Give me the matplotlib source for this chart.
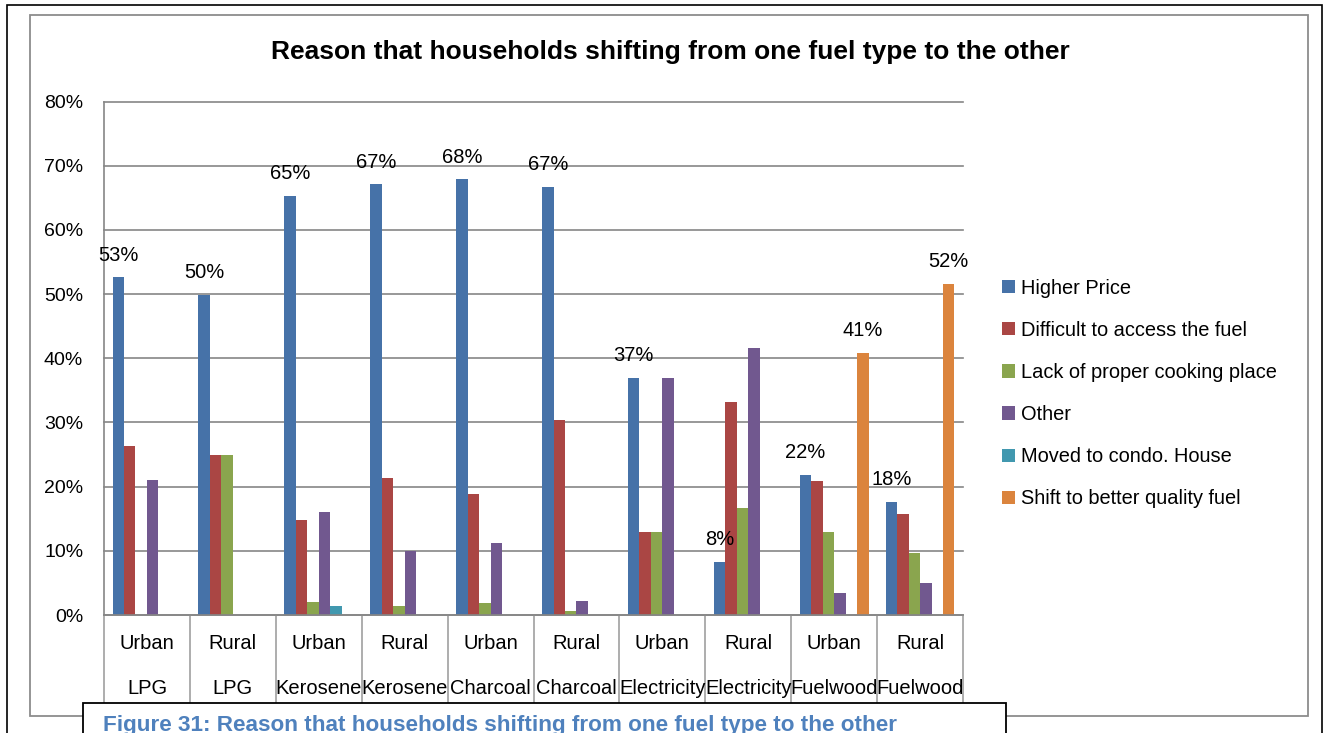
import matplotlib.pyplot as plt
import numpy as np
from matplotlib.patches import Rectangle
from matplotlib.ticker import PercentFormatter
import matplotlib.transforms as mtransforms

plt.rcParams['font.family'] = ['Liberation Sans', 'DejaVu Sans']

area = ["Urban", "Rural", "Urban", "Rural", "Urban", "Rural", "Urban", "Rural", "Urban", "Rural"]
fuel = ["LPG", "LPG", "Kerosene", "Kerosene", "Charcoal", "Charcoal",
        "Electricity", "Electricity", "Fuelwood", "Fuelwood"]

higher_price = [52.6, 49.9, 65.3, 67.1, 67.9, 66.7, 36.9, 8.3, 21.8, 17.6]
difficult_access = [26.4, 25.0, 14.8, 21.4, 18.8, 30.4, 13.0, 33.2, 20.9, 15.8]
lack_cooking_place = [0.0, 25.0, 2.1, 1.4, 1.9, 0.6, 13.0, 16.7, 12.9, 9.6]
other = [21.0, 0.0, 16.1, 10.0, 11.2, 2.2, 36.9, 41.6, 3.4, 5.0]
moved_condo = [0.0, 0.0, 1.4, 0.0, 0.0, 0.0, 0.0, 0.0, 0.0, 0.0]
better_fuel = [0.0, 0.0, 0.0, 0.0, 0.0, 0.0, 0.0, 0.0, 40.8, 51.6]

series = ["Higher Price", "Difficult to access the fuel", "Lack of proper cooking place",
          "Other", "Moved to condo. House", "Shift to better quality fuel"]
values = [higher_price, difficult_access, lack_cooking_place, other, moved_condo, better_fuel]
colors = ["#4672A8", "#AA4644", "#8AA54E", "#71588F", "#4198AF", "#DB843D"]
labelled = [True, False, False, False, False, True]

W, H = 1328, 733
fig = plt.figure(figsize=(W / 100, H / 100), dpi=100)


def fx(px):
    return px / W


def fy(py):
    return 1 - py / H


# outer page border and chart frame
fig.add_artist(Rectangle((fx(7), fy(760)), fx(1322) - fx(7), fy(5) - fy(760),
                         transform=fig.transFigure, fill=False, ec="black", lw=1.2, zorder=1))
fig.add_artist(Rectangle((fx(30), fy(716)), fx(1308) - fx(30), fy(15) - fy(716),
                         transform=fig.transFigure, fill=False, ec="#8c8c8c", lw=1.3, zorder=1))

ax = fig.add_axes([fx(104), fy(615), fx(963) - fx(104), fy(101.5) - fy(615)])

x = np.arange(len(fuel))
width = 1 / 7.5
for k, (name, vals, c) in enumerate(zip(series, values, colors)):
    v = np.array(vals) / 100
    bars = ax.bar(x + (k - 2.5) * width, v, width, color=c, label=name, zorder=2)
    if labelled[k]:
        for xi, vi in zip(x + (k - 2.5) * width, v):
            if vi > 0:
                ax.annotate(f"{vi * 100:.0f}%", (xi, vi), xytext=(0, 12), textcoords="offset points",
                            ha="center", va="baseline", fontsize=14.5, color="black")

ax.set_xlim(-0.5, len(fuel) - 0.5)
ax.set_ylim(0, 0.8)
ax.set_yticks(np.arange(0, 0.81, 0.1))
ax.yaxis.set_major_formatter(PercentFormatter(1.0, decimals=0))
ax.tick_params(axis="y", length=0, pad=15, labelsize=14)
ax.set_xticks([])
ax.grid(axis="y", color="#868686", linewidth=1.2)
for gl in ax.get_ygridlines():
    gl.set_clip_on(False)
ax.set_axisbelow(True)
for s in ["top", "right"]:
    ax.spines[s].set_visible(False)
for s in ["left", "bottom"]:
    ax.spines[s].set_color("#868686")
    ax.spines[s].set_linewidth(1.2)

# category table below the axis
trans = mtransforms.blended_transform_factory(ax.transData, ax.transAxes)
for b in np.arange(-0.5, len(fuel), 1.0):
    ax.plot([b, b], [0, -0.2], transform=trans, color="#a0a0a0", lw=1.2, clip_on=False)
for xi, a, f in zip(x, area, fuel):
    ax.annotate(a, (xi, 0), xycoords=trans, xytext=(0, -20.2), textcoords="offset points",
                ha="center", va="center", fontsize=14.5)
    ax.annotate(f, (xi, 0), xycoords=trans, xytext=(0, -52.6), textcoords="offset points",
                ha="center", va="center", fontsize=14.5)

fig.legend(loc="center left", bbox_to_anchor=(fx(1002), fy(393.5)), frameon=False,
           fontsize=14.4, handlelength=0.65, handleheight=0.65, handletextpad=0.3,
           labelspacing=1.16, borderpad=0, borderaxespad=0)

fig.text(fx(670), fy(52), "Reason that households shifting from one fuel type to the other",
         ha="center", va="center", fontsize=19, fontweight="bold")

# figure caption box
fig.add_artist(Rectangle((fx(83), fy(760)), fx(1006) - fx(83), fy(703) - fy(760),
                         transform=fig.transFigure, fc="white", ec="black", lw=1.3, zorder=5))
fig.text(fx(103), fy(731), "Figure 31: Reason that households shifting from one fuel type to the other",
         ha="left", va="baseline", fontsize=16.2, fontweight="bold", color="#4F81BD", zorder=6)

fig.savefig("out.png", dpi=100)
